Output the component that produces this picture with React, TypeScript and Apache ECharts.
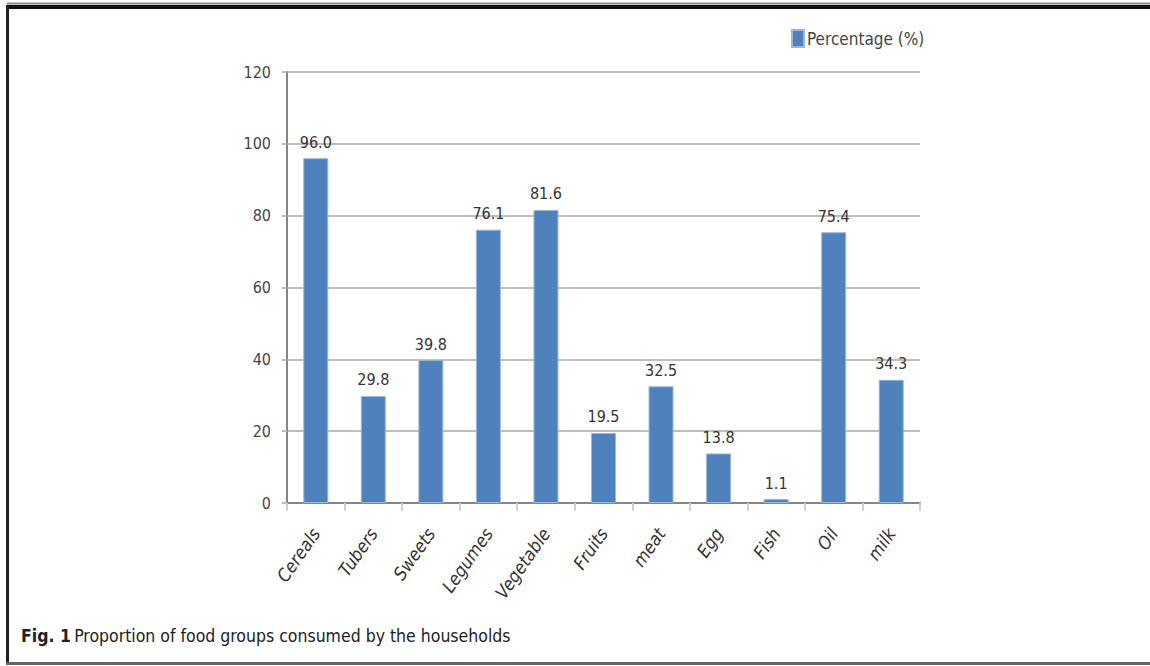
import React, { useEffect, useRef } from "react";
import * as echarts from "echarts";

// Food groups and the share of households consuming each
const categories = [
  "Cereals",
  "Tubers",
  "Sweets",
  "Legumes",
  "Vegetable",
  "Fruits",
  "meat",
  "Egg",
  "Fish",
  "Oil",
  "milk",
];
const percentages = [96.0, 29.8, 39.8, 76.1, 81.6, 19.5, 32.5, 13.8, 1.1, 75.4, 34.3];
const yTicks = { min: 0, max: 120, interval: 20 };
const seriesName = "Percentage (%)";
const caption = "Proportion of food groups consumed by the households";

const FONT = "'Liberation Sans Narrow', 'DejaVu Sans Condensed', 'Open Sans', sans-serif";

export default function App() {
  const ref = useRef<HTMLDivElement>(null);

  useEffect(() => {
    if (!ref.current) return;
    const chart = echarts.init(ref.current, undefined, { renderer: "svg" });
    chart.setOption({
      animation: false,
      backgroundColor: "#ffffff",
      textStyle: { fontFamily: FONT },
      grid: { left: 287, right: 230, top: 72, bottom: 163 },
      legend: {
        left: 791,
        top: 29,
        padding: 0,
        icon: "rect",
        itemWidth: 12,
        itemHeight: 17,
        itemGap: 4,
        textStyle: { fontFamily: FONT, fontSize: 17, color: "#444", padding: [0, 0, 0, -2] },
        data: [seriesName],
      },
      xAxis: {
        type: "category",
        data: categories,
        axisLine: { lineStyle: { color: "#868686", width: 2 } },
        axisTick: { show: true, length: 8, lineStyle: { color: "#cfcfcf", width: 2 } },
        axisLabel: {
          rotate: 55,
          margin: 27,
          interval: 0,
          fontFamily: FONT,
          fontStyle: "italic",
          fontSize: 18,
          color: "#333",
        },
      },
      yAxis: {
        type: "value",
        min: yTicks.min,
        max: yTicks.max,
        interval: yTicks.interval,
        axisLine: { show: true, lineStyle: { color: "#868686", width: 2 } },
        axisTick: { show: true, length: 5, lineStyle: { color: "#bdbdbd", width: 2 } },
        axisLabel: { margin: 16, fontFamily: FONT, fontSize: 16, color: "#444" },
        splitLine: { lineStyle: { color: "#bdbdbd", width: 2 } },
      },
      series: [
        {
          name: seriesName,
          type: "bar",
          data: percentages,
          barWidth: 25,
          itemStyle: { color: "#4F81BD", borderColor: "#9bb7dc", borderWidth: 1 },
          label: {
            show: true,
            position: "top",
            distance: 8,
            formatter: (p: any) => Number(p.value).toFixed(1),
            fontFamily: FONT,
            fontSize: 16,
            color: "#333",
          },
        },
      ],
      graphic: [
        // frame around the figure
        { type: "line", shape: { x1: 7, y1: 3.5, x2: 1150, y2: 3.5 }, style: { stroke: "#8a8a8a", lineWidth: 2 } },
        { type: "line", shape: { x1: 6, y1: 7, x2: 1150, y2: 7 }, style: { stroke: "#111", lineWidth: 4 } },
        { type: "line", shape: { x1: 7.5, y1: 6, x2: 7.5, y2: 665 }, style: { stroke: "#222", lineWidth: 3 } },
        { type: "line", shape: { x1: 6, y1: 663.5, x2: 1150, y2: 663.5 }, style: { stroke: "#666", lineWidth: 3 } },
        {
          type: "text",
          left: 21,
          top: 627,
          style: {
            rich: {
              b: { fontFamily: FONT, fontSize: 17.5, fontWeight: "bold", fill: "#222" },
              n: { fontFamily: FONT, fontSize: 17.5, fill: "#222" },
            },
            text: "{b|Fig. 1} {n|" + caption + "}",
          },
        },
      ],
    });
    return () => chart.dispose();
  }, []);

  return (
    <div
      ref={ref}
      style={{ position: "fixed", left: 0, top: 0, width: 1150, height: 666 }}
    />
  );
}
